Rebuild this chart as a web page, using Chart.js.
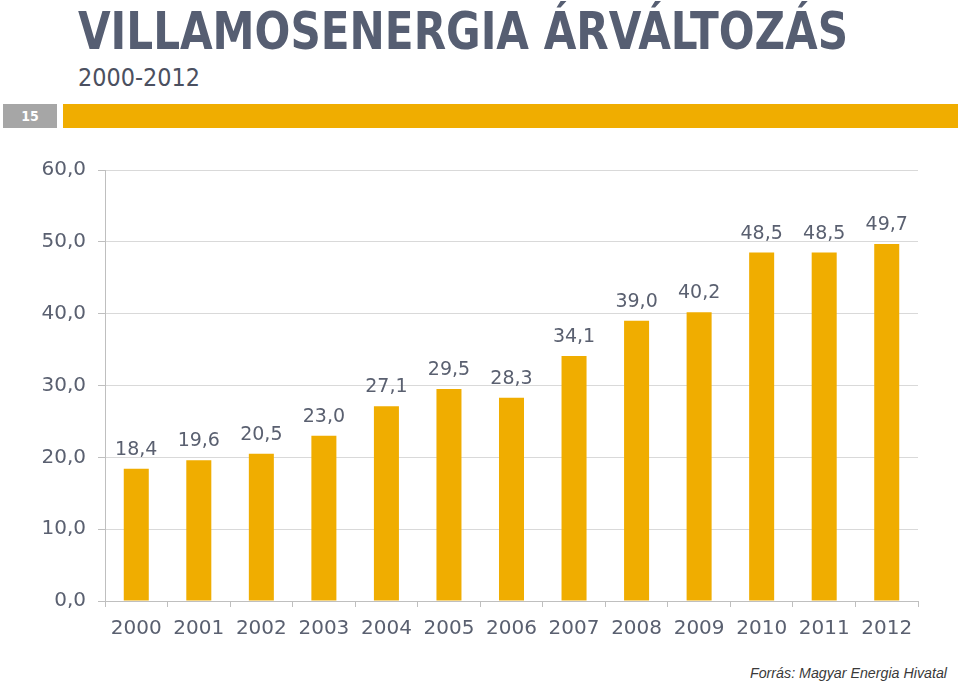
<!DOCTYPE html>
<html>
<head>
<meta charset="utf-8">
<script src="https://cdn.jsdelivr.net/npm/chart.js@4"></script>
<style>
  html, body { margin: 0; padding: 0; background: #fff; }
  body { width: 960px; height: 683px; position: relative; overflow: hidden; font-family: "DejaVu Sans", sans-serif; }
  .fit { position: absolute; white-space: nowrap; transform-origin: 0 0; }
  #title { left: 78px; top: 3px; font-family: "DejaVu Sans Condensed", "DejaVu Sans", sans-serif; font-weight: bold; font-size: 52px; line-height: 56px; color: #565e72; }
  #subtitle { left: 78px; top: 64px; font-family: "Liberation Sans Narrow", "DejaVu Sans Condensed", sans-serif; font-size: 25px; line-height: 28px; color: #4b5060; }
  #num { position: absolute; left: 3px; top: 104px; width: 54px; height: 24px; background: #a6a6a6; color: #fff; font-family: "DejaVu Sans Condensed", sans-serif; font-weight: bold; font-size: 14px; line-height: 24px; text-align: center; }
  #bar { position: absolute; left: 63px; top: 104px; width: 895px; height: 24px; background: #f0ad00; }
  #src { left: 750px; top: 664px; font-family: "Liberation Sans", sans-serif; font-style: italic; font-size: 15px; line-height: 18px; color: #3a3a3a; }
  #wrap { position: absolute; left: 0; top: 146px; width: 960px; height: 504px; }
</style>
</head>
<body>
<div id="title" class="fit" data-w="770">VILLAMOSENERGIA ÁRVÁLTOZÁS</div>
<div id="subtitle" class="fit" data-w="122">2000-2012</div>
<div id="num">15</div>
<div id="bar"></div>
<div id="wrap"><canvas id="c"></canvas></div>
<div id="src" class="fit" data-w="197">Forrás: Magyar Energia Hivatal</div>
<script>
const years = ["2000","2001","2002","2003","2004","2005","2006","2007","2008","2009","2010","2011","2012"];
const prices = [18.4, 19.6, 20.5, 23.0, 27.1, 29.5, 28.3, 34.1, 39.0, 40.2, 48.5, 48.5, 49.7];
const yTicks = [0, 10, 20, 30, 40, 50, 60];

document.querySelectorAll('.fit').forEach(el => {
  const w = el.getBoundingClientRect().width;
  const target = +el.dataset.w;
  el.style.transform = 'scaleX(' + (target / w) + ')';
});

const fmt = v => v.toFixed(1).replace('.', ',');
const textColor = '#5a6070';

const valueLabels = {
  id: 'valueLabels',
  afterDatasetsDraw(chart) {
    const ctx = chart.ctx;
    const meta = chart.getDatasetMeta(0);
    ctx.save();
    ctx.font = '19px "DejaVu Sans"';
    ctx.fillStyle = textColor;
    ctx.textAlign = 'center';
    ctx.textBaseline = 'middle';
    meta.data.forEach((bar, i) => {
      ctx.fillText(fmt(prices[i]), bar.x, bar.y - 19);
    });
    ctx.restore();
  }
};

new Chart(document.getElementById('c'), {
  type: 'bar',
  data: {
    labels: years,
    datasets: [{
      data: prices,
      backgroundColor: '#f0ad00',
      borderWidth: 0,
      barPercentage: 0.4,
      categoryPercentage: 1.0
    }]
  },
  options: {
    responsive: true,
    maintainAspectRatio: false,
    animation: false,
    layout: { padding: { top: 12, right: 42, left: 0, bottom: 0 } },
    plugins: { legend: { display: false }, tooltip: { enabled: false } },
    scales: {
      x: {
        offset: true,
        grid: { offset: true, drawOnChartArea: false, drawTicks: true, tickLength: 6, color: '#bfbfbf' },
        border: { color: '#bfbfbf' },
        ticks: { color: textColor, font: { family: 'DejaVu Sans', size: 20 }, padding: 10, maxRotation: 0 },
        afterFit(s) { s.height = 49; }
      },
      y: {
        min: 0, max: 60,
        afterBuildTicks(s) { s.ticks = yTicks.map(v => ({ value: v })); },
        grid: { color: '#d9d9d9', tickLength: 7, tickColor: '#bfbfbf' },
        border: { color: '#bfbfbf' },
        ticks: { color: textColor, font: { family: 'DejaVu Sans', size: 20 }, padding: 12, callback: v => fmt(v) },
        afterFit(s) { s.width = 105; }
      }
    }
  },
  plugins: [valueLabels]
});
</script>
</body>
</html>
